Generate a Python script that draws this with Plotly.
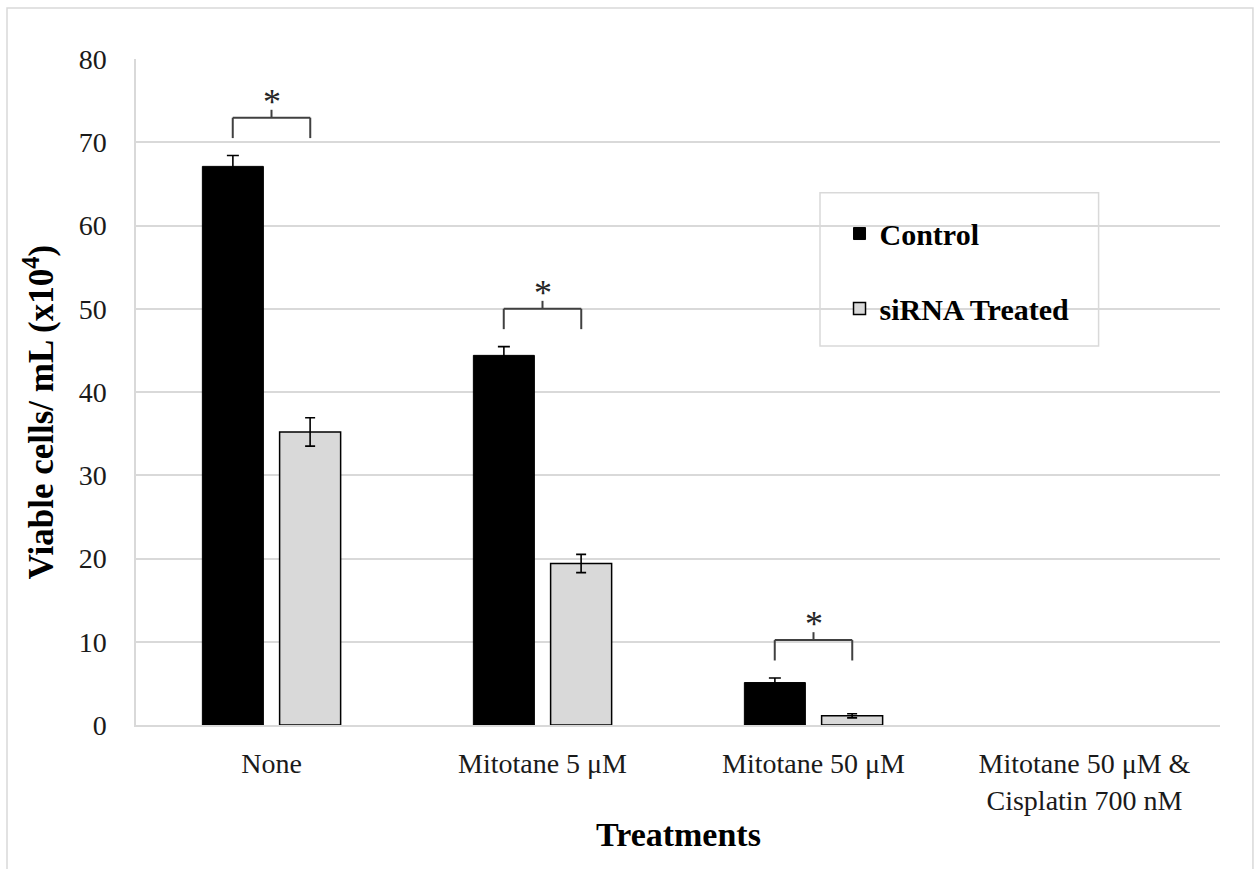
import plotly.graph_objects as go

categories = ["None", "Mitotane 5 μM", "Mitotane 50 μM", "Mitotane 50 μM &<br>Cisplatin 700 nM"]
control = [67.1, 44.4, 5.1, 0]
control_err = [1.3, 1.05, 0.55, 0]
sirna = [35.2, 19.4, 1.1, 0]
sirna_err = [1.7, 1.1, 0.25, 0]
significant = [True, True, True, False]

FONT = "Liberation Serif"
GRID = "#d9d9d9"


def nz(vals):
    return [v if v != 0 else None for v in vals]


fig = go.Figure()
fig.add_trace(go.Bar(
    name="Control", x=categories, y=nz(control), legendgroup="c",
    marker=dict(color="#000000", line=dict(color="#000000", width=1)),
    error_y=dict(type="data", array=control_err, color="#000000", thickness=1.6, width=6),
))
fig.add_trace(go.Bar(
    name="siRNA Treated", x=categories, y=nz(sirna), legendgroup="s",
    marker=dict(color="#d9d9d9", line=dict(color="#000000", width=1.5)),
    error_y=dict(type="data", array=sirna_err, color="#000000", thickness=1.6, width=5),
))

# significance brackets derived from the data
shapes = []
annotations = []
off = 0.143
for i, sig in enumerate(significant):
    if not sig:
        continue
    base = control[i] + control_err[i] + 2.1
    top = base + 2.45
    line = dict(color="#404040", width=2)
    shapes.append(dict(type="line", xref="x", yref="y", x0=i - off, x1=i - off, y0=base, y1=top, line=line))
    shapes.append(dict(type="line", xref="x", yref="y", x0=i + off, x1=i + off, y0=base, y1=top, line=line))
    shapes.append(dict(type="line", xref="x", yref="y", x0=i - off, x1=i + off, y0=top, y1=top, line=line))
    shapes.append(dict(type="line", xref="x", yref="y", x0=i, x1=i, y0=top, y1=top + 0.95, line=line))
    annotations.append(dict(xref="x", yref="y", x=i, y=top + 1.9, text="*", showarrow=False,
                            font=dict(family=FONT, size=36, color="#262626"), yanchor="middle"))

# y-axis title as rotated annotation
annotations.append(dict(xref="paper", yref="paper", x=-0.089, y=0.47, text="Viable cells/ mL (x10<sup>4</sup>)",
                        textangle=-90, showarrow=False, xanchor="center", yanchor="middle",
                        font=dict(family=FONT, size=35, color="#000000", weight="bold")))
# x-axis title
annotations.append(dict(xref="paper", yref="paper", x=0.5, y=-0.165, text="Treatments",
                        showarrow=False, xanchor="center", yanchor="middle",
                        font=dict(family=FONT, size=34, color="#000000", weight="bold")))

# legend box
shapes.append(dict(type="rect", xref="paper", yref="paper", x0=0.631, x1=0.888, y0=0.569, y1=0.799,
                   line=dict(color=GRID, width=1.5), fillcolor="rgba(0,0,0,0)", layer="below"))
# outer frame
shapes.append(dict(type="rect", xref="paper", yref="paper", x0=-0.119, x1=1.0304, y0=-0.25, y1=1.0766,
                   line=dict(color=GRID, width=1.5), fillcolor="rgba(0,0,0,0)"))

fig.update_layout(
    width=1258, height=869,
    margin=dict(l=136, r=38, t=59, b=144),
    paper_bgcolor="white", plot_bgcolor="white",
    barmode="group", bargap=0.43, bargroupgap=0.21,
    font=dict(family=FONT, color="#262626"),
    shapes=shapes, annotations=annotations,
    legend=dict(x=0.649, xanchor="left", y=0.777, yanchor="top",
                bgcolor="rgba(0,0,0,0)", borderwidth=0, tracegroupgap=33,
                font=dict(family=FONT, size=30, color="#000000", weight="bold")),
    showlegend=True,
)
fig.update_xaxes(
    showline=True, linecolor=GRID, linewidth=1.5, showgrid=False, ticks="",
    ticklabelstandoff=13,
    tickfont=dict(family=FONT, size=28, color="#1a1a1a"),
)
fig.update_yaxes(
    range=[0, 80], dtick=10, showline=True, linecolor=GRID, linewidth=1.5,
    showgrid=True, gridcolor=GRID, gridwidth=1.5, zeroline=False,
    ticks="", ticklabelstandoff=22,
    tickfont=dict(family=FONT, size=28, color="#1a1a1a"),
)

fig.write_html("out.html")
